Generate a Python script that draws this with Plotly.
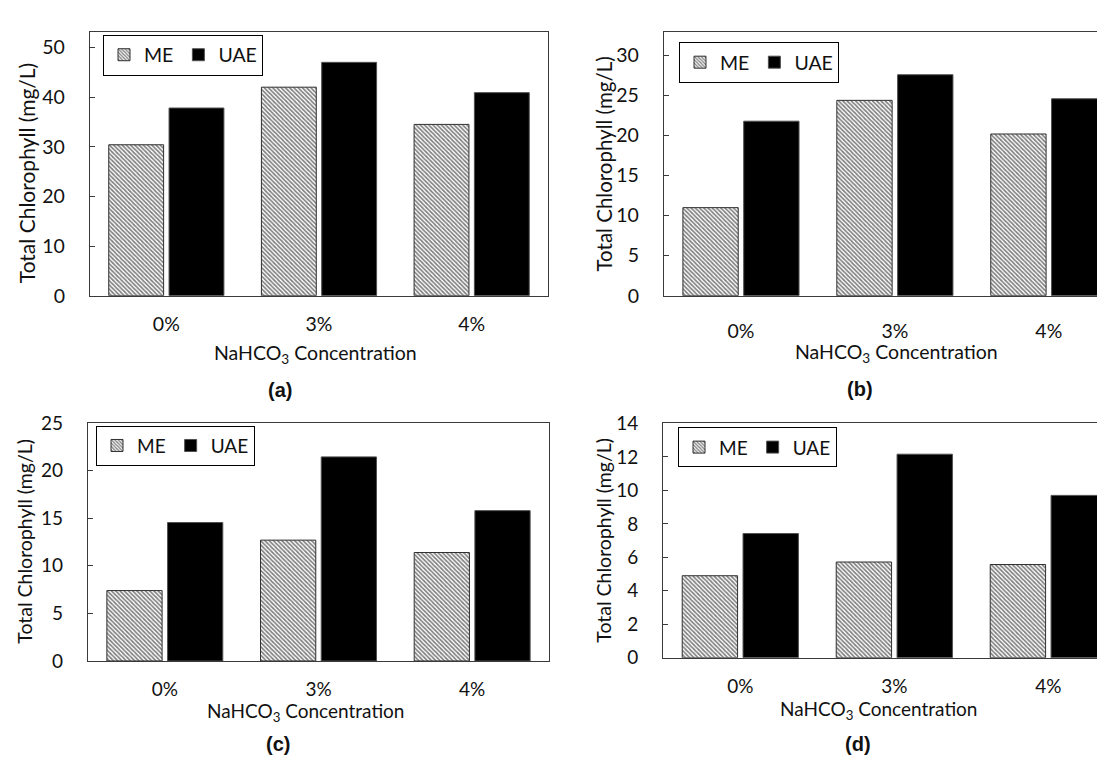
import plotly.graph_objects as go

# ---------------- data ----------------
categories = ["0%", "3%", "4%"]
series_names = ["ME", "UAE"]

me_a = [30.4, 42.0, 34.5]
uae_a = [37.8, 47.0, 40.9]

me_b = [11.0, 24.4, 20.2]
uae_b = [21.8, 27.6, 24.6]

me_c = [7.4, 12.7, 11.4]
uae_c = [14.55, 21.45, 15.8]

me_d = [4.9, 5.72, 5.57]
uae_d = [7.42, 12.16, 9.7]

y_tick_a = [0, 10, 20, 30, 40, 50]
y_tick_b = [0, 5, 10, 15, 20, 25, 30]
y_tick_c = [0, 5, 10, 15, 20, 25]
y_tick_d = [0, 2, 4, 6, 8, 10, 12, 14]

panel_labels = ["(a)", "(b)", "(c)", "(d)"]
y_title = "Total Chlorophyll (mg/L)"
x_title = "NaHCO<sub>3</sub> Concentration"

# ---------------- layout helpers (pixel geometry) ----------------
W, H = 1105, 759
FONT = "Lato, 'Open Sans', sans-serif"
FRAME = "#3a3a3a"


def fx(p):
    return p / W


def fy(p):
    return 1 - p / H


panels = [
    dict(me=me_a, uae=uae_a, ticks=y_tick_a, yr=[0, 53.05], xr=[-0.5, 2.5],
         left=82, right=540, top=12.7, bottom=284.3, box=True,
         leg=(95, 15), fs=19.5, yts=21, xlab_sd=11, ytitle_x=18, ytitle_y=158,
         xtitle=(307, 344), sub=(272, 382)),
    dict(me=me_b, uae=uae_b, ticks=y_tick_b, yr=[0, 32.9], xr=[-0.5, 2.417],
         left=656, right=1105, top=12.7, bottom=284.3, box=False,
         leg=(671, 22.7), fs=19.5, yts=20.5, xlab_sd=18, ytitle_x=596, ytitle_y=149,
         xtitle=(888, 343), sub=(852, 381)),
    dict(me=me_c, uae=uae_c, ticks=y_tick_c, yr=[0, 25], xr=[-0.5, 2.5],
         left=80, right=541, top=415.7, bottom=661, box=True,
         leg=(88, 418.3), fs=19, yts=19.5, xlab_sd=11, ytitle_x=17, ytitle_y=538,
         xtitle=(297, 714), sub=(270, 747)),
    dict(me=me_d, uae=uae_d, ticks=y_tick_d, yr=[0, 14], xr=[-0.5, 2.42],
         left=655.3, right=1105, top=416, bottom=657.7, box=False,
         leg=(670, 420), fs=19, yts=19.5, xlab_sd=11, ytitle_x=596, ytitle_y=537,
         xtitle=(870, 712), sub=(850, 747)),
]

fig = go.Figure()
annotations = []
layout_axes = {}

for i, p in enumerate(panels, start=1):
    sfx = "" if i == 1 else str(i)
    xa, ya = f"x{sfx}", f"y{sfx}"
    leg = "legend" if i == 1 else f"legend{i}"

    fig.add_trace(go.Bar(
        x=categories, y=p["me"], name=series_names[0], xaxis=xa, yaxis=ya,
        legend=leg,
        marker=dict(color="white", line=dict(color="#303030", width=1),
                    pattern=dict(shape="\\", fgcolor="black", bgcolor="white",
                                 size=3, solidity=0.55)),
        hoverinfo="x+y+name",
    ))
    fig.add_trace(go.Bar(
        x=categories, y=p["uae"], name=series_names[1], xaxis=xa, yaxis=ya,
        legend=leg,
        marker=dict(color="black", line=dict(color="#505050", width=1)),
        hoverinfo="x+y+name",
    ))

    layout_axes[f"xaxis{sfx}"] = dict(
        domain=[fx(p["left"]), fx(p["right"])], anchor=ya,
        type="category", range=p["xr"],
        showline=True, linecolor=FRAME, linewidth=1.3, mirror=True,
        ticks="", showgrid=False, zeroline=False,
        tickfont=dict(family=FONT, size=p["fs"], color="#111"),
        ticklabelstandoff=p["xlab_sd"],
    )
    layout_axes[f"yaxis{sfx}"] = dict(
        domain=[fy(p["bottom"]), fy(p["top"])], anchor=xa,
        range=p["yr"], tickmode="array", tickvals=p["ticks"],
        showline=True, linecolor=FRAME, linewidth=1.3,
        mirror=p["box"],
        ticks="inside", ticklen=5, tickcolor=FRAME, tickwidth=1,
        showgrid=False, zeroline=False,
        tickfont=dict(family=FONT, size=p["fs"], color="#111"),
        ticklabelstandoff=20,
    )
    layout_axes[leg] = dict(
        x=fx(p["leg"][0]), y=fy(p["leg"][1]), xanchor="left", yanchor="top",
        orientation="h", bordercolor="black", borderwidth=1, bgcolor="white",
        font=dict(family=FONT, size=p["fs"], color="#111"),
        itemwidth=30, tracegroupgap=0,
    )

    annotations.append(dict(
        text=y_title, textangle=-90, xref="paper", yref="paper",
        x=fx(p["ytitle_x"]), y=fy(p["ytitle_y"]), xanchor="center",
        yanchor="middle", showarrow=False,
        font=dict(family=FONT, size=p["yts"], color="#111"),
    ))
    annotations.append(dict(
        text=x_title, xref="paper", yref="paper",
        x=fx(p["xtitle"][0]), y=fy(p["xtitle"][1]), xanchor="center",
        yanchor="middle", showarrow=False,
        font=dict(family=FONT, size=p["fs"], color="#111"),
    ))
    annotations.append(dict(
        text=f"<b>{panel_labels[i-1]}</b>", xref="paper", yref="paper",
        x=fx(p["sub"][0]), y=fy(p["sub"][1]), xanchor="center",
        yanchor="middle", showarrow=False,
        font=dict(family="'Liberation Sans', Arial, sans-serif", size=20,
                  color="#111"),
    ))

fig.update_layout(
    width=W, height=H,
    margin=dict(l=0, r=0, t=0, b=0),
    paper_bgcolor="white", plot_bgcolor="white",
    barmode="group", bargap=0.21, bargroupgap=0.09,
    showlegend=True,
    annotations=annotations,
    **layout_axes,
)

fig.write_html("out.html")
